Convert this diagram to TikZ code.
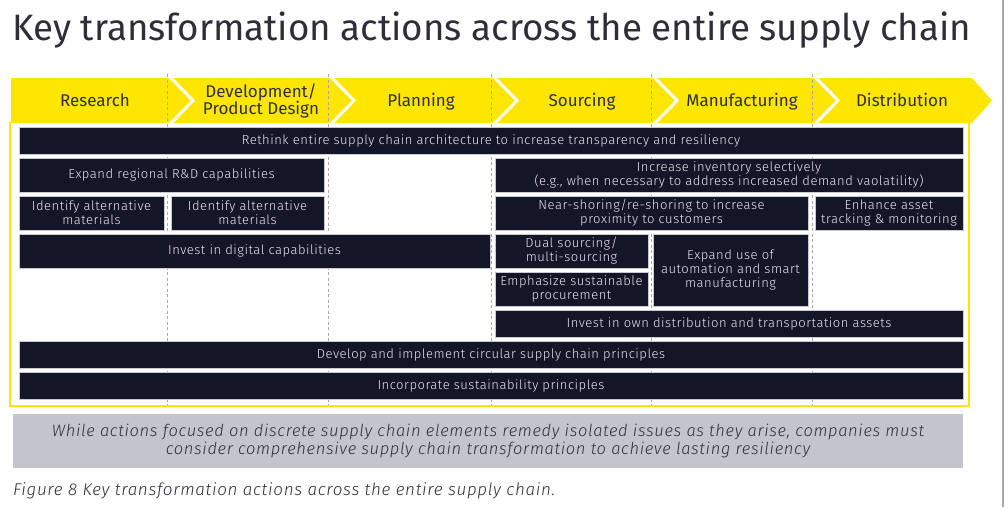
\documentclass[tikz,border=0pt]{standalone}
\usepackage{fontspec}
\setmainfont{Fira Sans}
\newfontfamily\lightfont{Fira Sans Light}[LetterSpace=4]
\definecolor{eyyellow}{HTML}{FFE600}
\definecolor{navy}{HTML}{151528}
\definecolor{boxedge}{HTML}{C9C9D2}
\definecolor{boxtext}{HTML}{E8E8EE}
\definecolor{ink}{HTML}{2E2E38}
\definecolor{panel}{HTML}{C4C4CD}
\definecolor{colline}{HTML}{A8A8A8}
\tikzset{
  actionbox/.style={rectangle, fill=navy, draw=boxedge, line width=0.8pt,
    inner sep=0pt, align=center, text=boxtext,
    font=\lightfont\fontsize{13}{14}\selectfont},
  stagelabel/.style={text=ink, align=center, inner sep=0pt,
    font=\fontsize{17}{16.7}\selectfont},
  columnline/.style={colline, line width=0.7pt, dash pattern=on 3pt off 2.5pt},
  chevron/.style={white, line width=3pt, line join=miter},
}
% \actbox{name}{x1}{y1}{x2}{y2}{text}
\newcommand{\actbox}[6]{%
  \node[actionbox, minimum width={(#4-#2)*1pt}, minimum height={(#5-#3)*1pt}]
    (#1) at ({(#2+#4)/2},{(#3+#5)/2}) {#6};}
\begin{document}
\begin{tikzpicture}[x=1pt, y=-1pt]
\useasboundingbox (0,0) rectangle (1008,507);
\fill[white] (0,0) rectangle (1008,507);

% right page rule
\draw[colline, line width=2pt] (1003,0) -- (1003,507);

% title
\node[anchor=base west, inner sep=0pt, text=ink,
  font=\fontsize{36.7}{36.7}\selectfont] (title) at (12,40)
  {Key transformation actions across the entire supply chain};

% stage band
\fill[eyyellow] (11,78) -- (972,78) -- (992,100.5) -- (972,123) -- (11,123) -- cycle;
\foreach \cx in {167,328,491,651,812}{
  \draw[chevron] (\cx+3,77) -- (\cx+26,100.5) -- (\cx+3,124);
}

% frame around the actions
\draw[eyyellow, line width=2pt] (10,122) -- (10,406) -- (969,406) -- (969,122);

% column separators
\foreach \cx in {167,328,491,651,812}{
  \draw[columnline] (\cx,74) -- (\cx,405);
}

% stage labels
\node[stagelabel, anchor=base] (research) at (95,106) {Research};
\node[stagelabel] (design) at (261,101) {Development/\\Product Design};
\node[stagelabel, anchor=base] (planning) at (421,106) {Planning};
\node[stagelabel, anchor=base] (sourcing) at (582,106) {Sourcing};
\node[stagelabel, anchor=base] (manufacturing) at (742,106) {Manufacturing};
\node[stagelabel, anchor=base] (distribution) at (902,106) {Distribution};

% actions
\actbox{rethink}{19}{127}{963}{154}{Rethink entire supply chain architecture to increase transparency and resiliency}
\actbox{rnd}{19}{158}{324}{192}{Expand regional R\&D capabilities}
\actbox{inventory}{495}{158}{963}{192}{Increase inventory selectively\\(e.g., when necessary to address increased demand vaolatility)}
\actbox{altA}{19}{196}{164}{230}{Identify alternative\\materials}
\actbox{altB}{171}{196}{324}{230}{Identify alternative\\materials}
\actbox{near}{495}{196}{808}{230}{Near-shoring/re-shoring to increase\\proximity to customers}
\actbox{enhance}{815}{196}{963}{230}{Enhance asset\\tracking \& monitoring}
\actbox{digital}{19}{234}{490}{268}{Invest in digital capabilities}
\actbox{dual}{495}{234}{648}{268}{Dual sourcing/\\multi-sourcing}
\actbox{automation}{653}{234}{808}{306}{Expand use of\\automation and smart\\manufacturing}
\actbox{emph}{495}{272}{648}{306}{Emphasize sustainable\\procurement}
\actbox{owndist}{495}{310}{963}{337}{Invest in own distribution and transportation assets}
\actbox{circular}{19}{341}{963}{368}{Develop and implement circular supply chain principles}
\actbox{sustain}{19}{372}{963}{399}{Incorporate sustainability principles}

% conclusion panel
\node[rectangle, fill=panel, minimum width=950pt, minimum height=54pt, inner sep=0pt,
  align=center, text=ink, font=\lightfont\itshape\fontsize{16.5}{17.5}\selectfont]
  (summary) at (488,441)
  {While actions focused on discrete supply chain elements remedy isolated issues as they arise, companies must\\
   consider comprehensive supply chain transformation to achieve lasting resiliency};

% caption
\node[anchor=west, inner sep=0pt, text=ink, font=\lightfont\itshape\fontsize{17}{17}\selectfont]
  (caption) at (13,491) {Figure 8 Key transformation actions across the entire supply chain.};
\end{tikzpicture}
\end{document}
